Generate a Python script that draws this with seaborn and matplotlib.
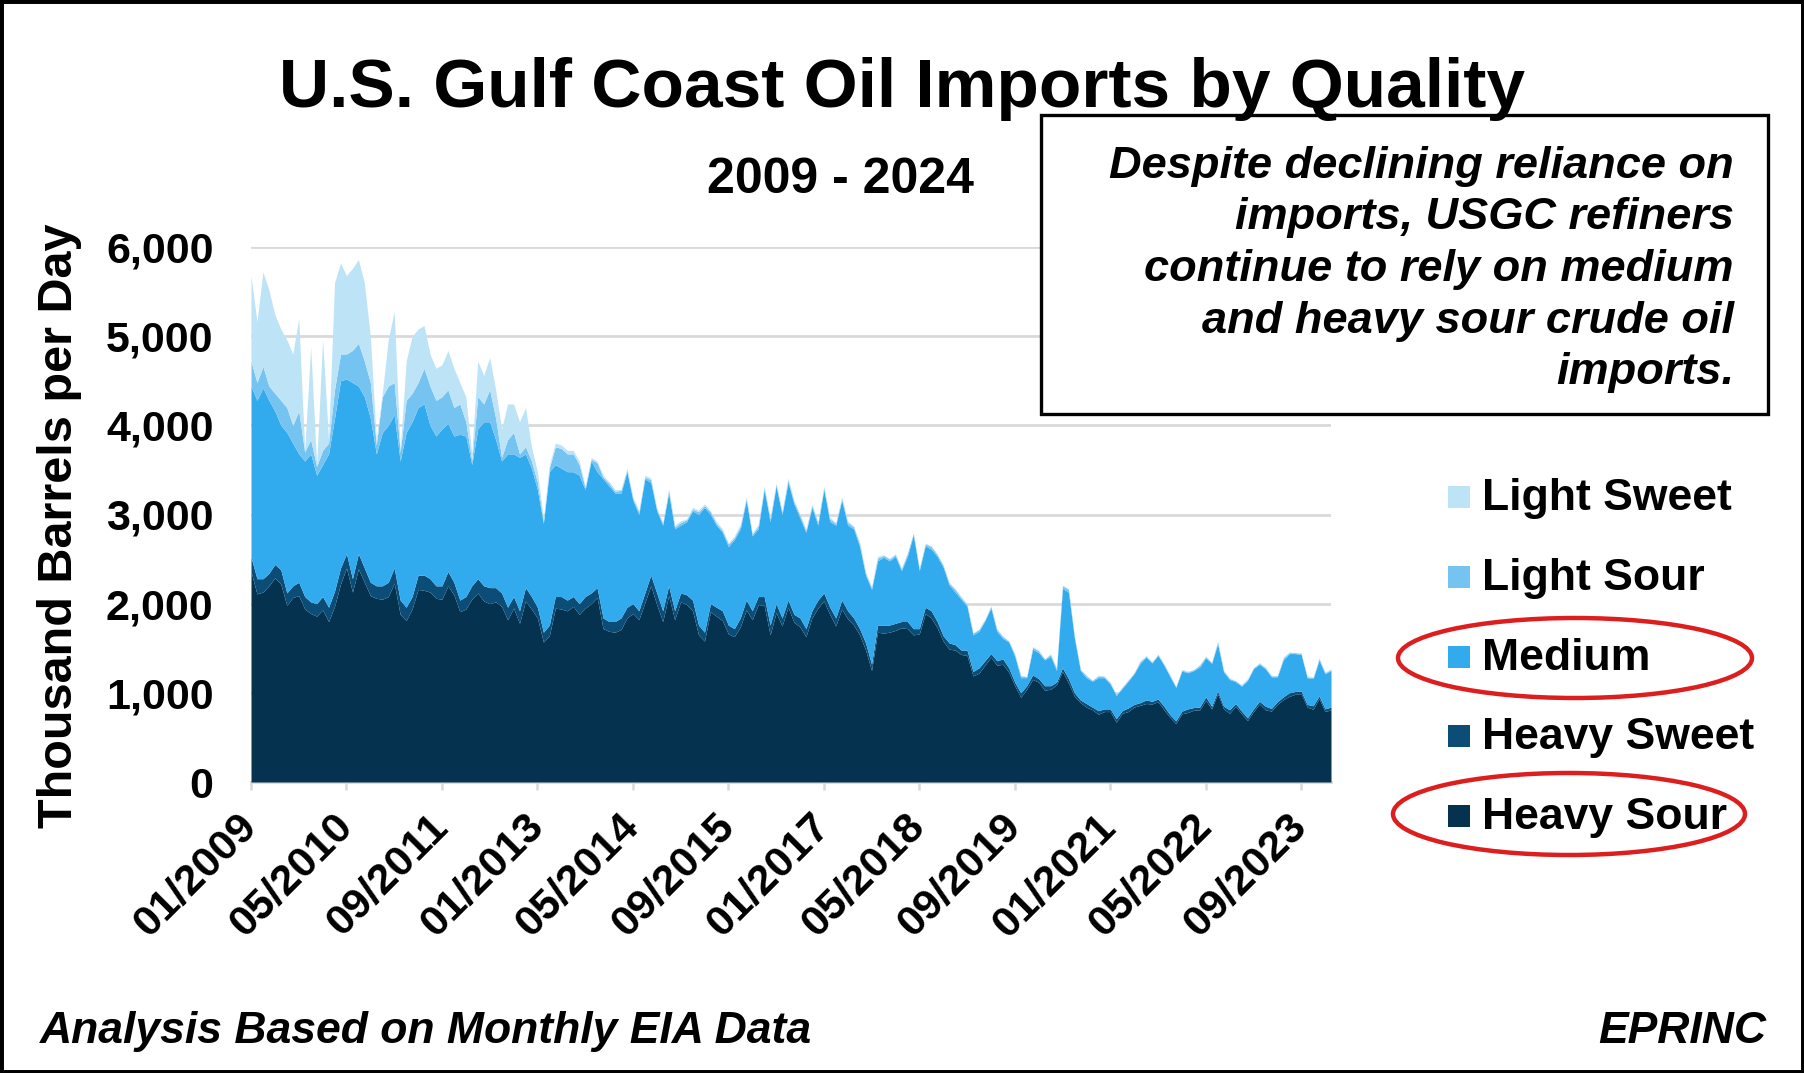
import numpy as np
import pandas as pd
import matplotlib
matplotlib.use("Agg")
import matplotlib.pyplot as plt
import seaborn as sns
from matplotlib.patches import Rectangle, Ellipse

# ---------------- data (thousand barrels per day, monthly 01/2009 - 02/2024) ----------------
heavy_sour = [
    2360, 2110, 2130, 2200, 2290, 2220, 1980, 2070, 2090, 1940, 1890, 1860,  # 2009
    1930, 1800, 1970, 2220, 2400, 2130, 2390, 2240, 2090, 2060, 2050, 2080,  # 2010
    2230, 1880, 1810, 1940, 2160, 2150, 2130, 2060, 2050, 2200, 2100, 1910,  # 2011
    1940, 2050, 2120, 2030, 2000, 2020, 1970, 1820, 1950, 1780, 2030, 1940,  # 2012
    1840, 1570, 1640, 1950, 1940, 1920, 1970, 1880, 1950, 2000, 2070, 1720,  # 2013
    1690, 1680, 1710, 1840, 1890, 1820, 2010, 2200, 1990, 1800, 2090, 1820,  # 2014
    2020, 1990, 1920, 1650, 1580, 1910, 1860, 1810, 1660, 1630, 1740, 1930,  # 2015
    1820, 1990, 1980, 1650, 1900, 1750, 1960, 1790, 1740, 1630, 1840, 1950,  # 2016
    2030, 1880, 1750, 1940, 1830, 1760, 1650, 1480, 1250, 1680, 1670, 1680,  # 2017
    1700, 1730, 1720, 1650, 1660, 1890, 1840, 1730, 1580, 1490, 1480, 1430,  # 2018
    1420, 1190, 1220, 1310, 1400, 1310, 1320, 1230, 1080, 950, 1040, 1150,   # 2019
    1120, 1030, 1040, 1090, 1240, 1110, 960, 890, 840, 810, 760, 790,        # 2020
    790, 670, 770, 790, 840, 860, 880, 875, 900, 810, 725, 655,              # 2021
    765, 780, 805, 810, 915, 820, 990, 820, 770, 850, 765, 690,              # 2022
    790, 875, 810, 795, 870, 925, 960, 985, 990, 840, 815, 935,              # 2023
    790, 810,                                                                # 2024
]
heavy_sweet = [
    160, 170, 150, 140, 150, 160, 140, 130, 150, 140, 130, 140,
    150, 160, 170, 180, 160, 150, 170, 160, 150, 140, 150, 160,
    170, 160, 150, 140, 160, 170, 150, 140, 150, 160, 140, 130,
    140, 150, 160, 170, 180, 160, 150, 140, 130, 140, 150, 140,
    120, 110, 120, 130, 140, 120, 110, 120, 130, 120, 110, 120,
    110, 120, 130, 120, 110, 100, 110, 120, 130, 120, 110, 100,
    100, 110, 120, 110, 100, 90, 100, 110, 100, 90, 100, 110,
    100, 90, 100, 110, 100, 90, 80, 90, 100, 90, 80, 90,
    90, 80, 90, 100, 90, 80, 70, 80, 70, 80, 90, 80,
    80, 70, 80, 70, 60, 70, 80, 70, 60, 70, 60, 50,
    60, 50, 60, 50, 40, 50, 60, 50, 40, 50, 40, 50,
    40, 50, 40, 30, 40, 50, 40, 30, 40, 30, 40, 30,
    30, 40, 30, 40, 30, 30, 40, 30, 30, 40, 30, 30,
    30, 40, 30, 30, 40, 30, 30, 30, 40, 30, 30, 30,
    30, 30, 40, 30, 30, 30, 40, 30, 30, 30, 40, 30,
    30, 30,
]
medium = [
    1920, 2000, 2140, 1940, 1720, 1620, 1800, 1600, 1440, 1520, 1660, 1440,
    1480, 1720, 1940, 2100, 1960, 2200, 1880, 1920, 1840, 1480, 1720, 1760,
    1720, 1560, 1960, 1960, 1880, 1920, 1720, 1680, 1760, 1660, 1640, 1860,
    1800, 1360, 1680, 1840, 1860, 1660, 1480, 1720, 1600, 1720, 1500, 1440,
    1320, 1220, 1720, 1480, 1440, 1440, 1400, 1440, 1200, 1480, 1300, 1560,
    1520, 1440, 1400, 1520, 1160, 1080, 1280, 1040, 920, 960, 1040, 920,
    760, 820, 1000, 1240, 1400, 1000, 920, 880, 880, 1000, 1000, 1120,
    840, 760, 1200, 1160, 1320, 1160, 1320, 1240, 1120, 1080, 1160, 840,
    1160, 960, 1040, 1120, 960, 1000, 920, 760, 840, 720, 760, 720,
    750, 570, 730, 1050, 650, 690, 690, 730, 770, 650, 590, 570,
    490, 410, 410, 450, 510, 330, 230, 290, 290, 170, 90, 290,
    290, 290, 330, 130, 890, 970, 610, 330, 290, 290, 370, 350,
    280, 260, 250, 300, 345, 440, 480, 430, 490, 460, 430, 375,
    450, 405, 415, 450, 440, 480, 530, 385, 340, 245, 280, 420,
    450, 415, 420, 355, 280, 415, 440, 425, 410, 300, 305, 400,
    395, 410,
]
light_sour = [
    280, 200, 240, 160, 200, 280, 280, 200, 480, 100, 160, 100,
    160, 120, 320, 300, 280, 360, 480, 400, 400, 100, 400, 440,
    360, 100, 360, 320, 280, 400, 440, 400, 360, 380, 320, 340,
    160, 40, 360, 200, 360, 240, 40, 160, 240, 40, 80, 80,
    80, 20, 40, 200, 220, 200, 200, 120, 20, 20, 100, 20,
    30, 20, 30, 20, 20, 30, 20, 30, 20, 20, 30, 20,
    30, 20, 20, 30, 20, 30, 20, 20, 30, 20, 30, 20,
    20, 30, 20, 30, 20, 20, 30, 20, 30, 20, 20, 30,
    20, 30, 20, 20, 30, 20, 30, 20, 20, 30, 20, 20,
    20, 20, 30, 20, 20, 20, 30, 20, 20, 20, 30, 20,
    20, 20, 20, 10, 20, 20, 20, 10, 20, 20, 10, 20,
    20, 10, 20, 20, 30, 30, 20, 10, 20, 10, 20, 10,
    10, 10, 10, 10, 10, 20, 10, 10, 10, 10, 10, 10,
    10, 10, 10, 20, 10, 10, 20, 10, 10, 10, 10, 10,
    10, 10, 10, 10, 10, 20, 10, 10, 10, 10, 10, 20,
    10, 10,
]
light_sweet = [
    960, 680, 1060, 1080, 880, 800, 760, 800, 1040, 20, 1040, 20,
    1240, 40, 1200, 1020, 880, 920, 940, 880, 520, 60, 40, 520,
    800, 20, 440, 640, 600, 480, 360, 360, 360, 440, 440, 240,
    280, 80, 400, 320, 360, 320, 320, 400, 320, 360, 440, 160,
    120, 40, 40, 40, 40, 40, 40, 40, 20, 20, 20, 20,
    20, 20, 10, 20, 20, 10, 20, 20, 20, 10, 20, 20,
    20, 10, 20, 20, 20, 10, 20, 20, 10, 20, 20, 20,
    10, 20, 20, 20, 10, 20, 20, 20, 10, 20, 20, 10,
    20, 20, 10, 20, 20, 10, 20, 20, 10, 20, 10, 10,
    10, 10, 10, 0, 10, 10, 10, 10, 0, 10, 10, 10,
    10, 0, 10, 10, 0, 10, 10, 0, 10, 10, 0, 10,
    10, 0, 10, 10, 10, 10, 0, 10, 10, 0, 10, 10,
    10, 0, 10, 10, 0, 10, 10, 10, 0, 10, 10, 0,
    10, 10, 0, 10, 10, 0, 10, 10, 10, 0, 10, 10,
    0, 10, 10, 10, 0, 10, 10, 0, 10, 10, 10, 0,
    10, 10,
]

grades = ["Light Sweet", "Light Sour", "Medium", "Heavy Sweet", "Heavy Sour"]
colors = ["#BDE3F7", "#74C3F0", "#32AAEE", "#0B4D77", "#05324F"]
x_tick_labels = ["01/2009", "05/2010", "09/2011", "01/2013", "05/2014", "09/2015",
                 "01/2017", "05/2018", "09/2019", "01/2021", "05/2022", "09/2023"]
y_ticks = [0, 1000, 2000, 3000, 4000, 5000, 6000]

title = "U.S. Gulf Coast Oil Imports by Quality"
subtitle = "2009 - 2024"
note_lines = ["Despite declining reliance on", "imports, USGC refiners",
              "continue to rely on medium", "and heavy sour crude oil", "imports."]

series = {"Light Sweet": light_sweet, "Light Sour": light_sour, "Medium": medium,
          "Heavy Sweet": heavy_sweet, "Heavy Sour": heavy_sour}
n = len(heavy_sour)
for k, v in series.items():
    assert len(v) == n, (k, len(v))

df = pd.concat([pd.DataFrame({"month": np.arange(n), "value": vals, "grade": g})
                for g, vals in series.items()], ignore_index=True)

# ---------------- style ----------------
sns.set_theme(style="white")
plt.rcParams["font.family"] = ["Liberation Sans", "DejaVu Sans"]
plt.rcParams["font.weight"] = "bold"
for key in ["text.color", "axes.labelcolor", "xtick.labelcolor", "ytick.labelcolor"]:
    plt.rcParams[key] = "black"

W, H = 1804, 1073
fig = plt.figure(figsize=(W / 100, H / 100), dpi=100)
fig.patch.set_facecolor("white")

def fx(px):
    return px / W

def fy(py):
    return 1 - py / H

ax = fig.add_axes([fx(251), fy(782), fx(1331) - fx(251), fy(247) - fy(782)])
ax.set_facecolor("white")

sns.histplot(data=df, x="month", weights="value", hue="grade", hue_order=grades,
             multiple="stack", element="poly", discrete=True,
             palette=dict(zip(grades, colors)), alpha=1, linewidth=0,
             legend=False, ax=ax)

ax.set_xlim(0, n - 1)
ax.set_ylim(0, 6000)
ax.set_axisbelow(True)
ax.yaxis.grid(True, color="#D9D9D9", linewidth=2.0)
ax.xaxis.grid(False)
for s in ["left", "top", "right"]:
    ax.spines[s].set_visible(False)
ax.spines["bottom"].set_color("#D9D9D9")
ax.spines["bottom"].set_linewidth(2.0)
ax.spines["bottom"].set_zorder(0.5)

tick_pos = [(int(l[3:]) - 2009) * 12 + int(l[:2]) - 1 for l in x_tick_labels]
ax.set_xticks(tick_pos)
ax.set_xticklabels(x_tick_labels, rotation=45, ha="right", va="center",
                   rotation_mode="anchor", fontsize=31, fontweight="bold", color="black")
ax.tick_params(axis="x", length=6, width=1.8, color="#D9D9D9", direction="out",
               pad=22, bottom=True)
ax.set_yticks(y_ticks)
ax.set_yticklabels([f"{v:,}" for v in y_ticks], fontsize=31, fontweight="bold", color="black")
ax.tick_params(axis="y", length=0, pad=27)
ax.set_xlabel("")
ax.set_ylabel("")

# axis title
fig.text(fx(60), fy(526), "Thousand Barrels per Day", rotation=90, ha="center",
         va="center", fontsize=35, fontweight="bold", color="black")

# titles
fig.text(fx(902), fy(107), title, ha="center", va="baseline", fontsize=50,
         fontweight="bold", color="black")
fig.text(fx(840), fy(193), subtitle, ha="center", va="baseline", fontsize=36,
         fontweight="bold", color="black")

# annotation box
fig.patches.append(Rectangle((fx(1041), fy(414)), fx(1768) - fx(1041), fy(115) - fy(414),
                             transform=fig.transFigure, fill=True, facecolor="white",
                             edgecolor="black", linewidth=2.4, zorder=3))
for i, line in enumerate(note_lines):
    fig.text(fx(1734), fy(178 + 51.5 * i), line, ha="right", va="baseline",
             fontsize=32.5, fontweight="bold", style="italic", color="black", zorder=4)

# legend
legend_base = [510, 590, 670, 749, 829]
for g, c, b in zip(grades, colors, legend_base):
    fig.patches.append(Rectangle((fx(1448), fy(b - 2)), fx(1470) - fx(1448), fy(b - 24) - fy(b - 2),
                                 transform=fig.transFigure, facecolor=c, edgecolor="none", zorder=3))
    fig.text(fx(1482), fy(b), g, ha="left", va="baseline", fontsize=32,
             fontweight="bold", color="black", zorder=5)

# red ellipses
for (cx, cy, w, h) in [(1575, 658, 354, 80), (1569, 814, 352, 82)]:
    fig.patches.append(Ellipse((fx(cx), fy(cy)), fx(w), h / H, transform=fig.transFigure,
                               fill=False, edgecolor="#DD1E1E", linewidth=3.2, zorder=4))

# footer
fig.text(fx(40), fy(1043), "Analysis Based on Monthly EIA Data", ha="left", va="baseline",
         fontsize=32, fontweight="bold", style="italic", color="black")
fig.text(fx(1766), fy(1043), "EPRINC", ha="right", va="baseline",
         fontsize=32, fontweight="bold", style="italic", color="black")

# outer border
fig.patches.append(Rectangle((0, 0), 1, 1, transform=fig.transFigure, fill=False,
                             edgecolor="black", linewidth=5, zorder=10))

fig.savefig("out.png", dpi=100, facecolor="white")
